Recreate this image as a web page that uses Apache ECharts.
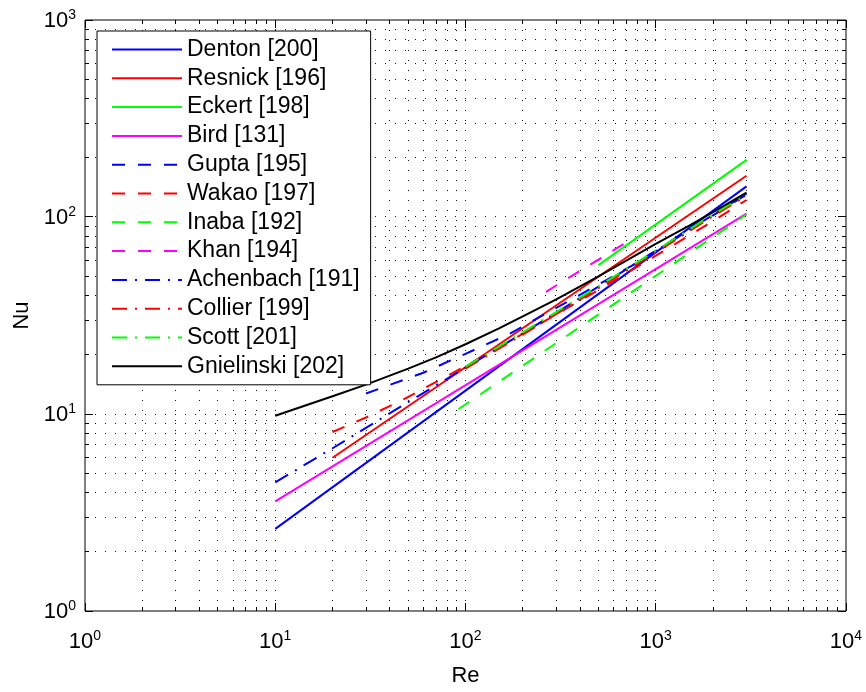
<!DOCTYPE html>
<html>
<head>
<meta charset="utf-8">
<script src="https://cdn.jsdelivr.net/npm/echarts@6/dist/echarts.min.js"></script>
<style>
  html, body { margin: 0; padding: 0; background: #fff; }
  #chart { width: 866px; height: 692px; }
</style>
</head>
<body>
<div id="chart"></div>
<script>
// Nusselt number correlations versus Reynolds number, log-log
const FONT = "'Liberation Sans', Arial, Helvetica, sans-serif";

const seriesNames = [
  'Denton [200]', 'Resnick [196]', 'Eckert [198]', 'Bird [131]',
  'Gupta [195]', 'Wakao [197]', 'Inaba [192]', 'Khan [194]',
  'Achenbach [191]', 'Collier [199]', 'Scott [201]', 'Gnielinski [202]'
];

// [Re, Nu] pairs
const denton = [[10, 2.61], [3000, 143]];
const resnick = [[20, 6.0], [3000, 162]];
const eckert = [[500, 57], [3000, 195]];
const bird = [[10, 3.6], [3000, 104]];
const gupta = [[30, 12.7], [60, 16.2], [100, 20.2], [170, 25.5], [300, 34.6], [500, 45.4], [750, 56.7], [1000, 67.4], [2000, 102], [3000, 130]];
const wakao = [[20, 8.1], [30, 9.6], [50, 12.2], [100, 17.5], [200, 25.5], [500, 42.6], [1000, 63.6], [2000, 95.4], [3000, 122]];
const inaba = [[92, 10.6], [3000, 103]];
const khan = [[265, 41.7], [720, 75.5]];
const achenbach = [[10, 4.5], [20, 6.7], [50, 11.5], [100, 17.2], [200, 25.7], [500, 44.3], [1000, 67.3], [2000, 102.5], [3000, 131.5]];
const collier = [[100, 17.0], [200, 25.3], [500, 43.5], [1000, 66], [2000, 101], [3000, 128]];
const scott = [[100, 17.4], [200, 26], [500, 44.5], [1000, 67.5], [2000, 103], [3000, 130]];
const gnielinski = [[10, 9.8], [20, 12.3], [30, 14.1], [50, 17.0], [70, 19.4], [100, 22.6], [150, 27.2], [200, 31.3], [300, 38.2], [500, 50], [700, 60], [1000, 73], [1500, 90.5], [2000, 106], [3000, 133]];

const seriesData = [denton, resnick, eckert, bird, gupta, wakao, inaba, khan, achenbach, collier, scott, gnielinski];
const seriesColors = ['#0000ff', '#ff0000', '#00ff00', '#ff00ff', '#0000ff', '#ff0000', '#00ff00', '#ff00ff', '#0000ff', '#ff0000', '#00ff00', '#000000'];
const seriesDash = ['solid', 'solid', 'solid', 'solid', 'dashed', 'dashed', 'dashed', 'dashed', 'dashdot', 'dashdot', 'dashdot', 'solid'];

// axis decades and tick labels (exponents of 10)
const xDecades = [1, 10, 100, 1000, 10000];
const yDecades = [1, 10, 100, 1000];
const xTickLabels = ['0', '1', '2', '3', '4'];
const yTickLabels = ['0', '1', '2', '3'];
const minorFactors = [2, 3, 4, 5, 6, 7, 8, 9];

const dashPatterns = { solid: 'solid', dashed: [13, 13], dashdot: [15, 8, 2, 8] };

function decadeLabel(decades, labels) {
  return function (v) {
    let idx = -1;
    decades.forEach((d, i) => { if (Math.abs(d - v) / d < 1e-6) idx = i; });
    return idx < 0 ? '' : '{b|10}{s|' + labels[idx] + '}';
  };
}

const labelRich = {
  b: { fontSize: 22, fontFamily: FONT, color: '#000', lineHeight: 24, verticalAlign: 'bottom' },
  s: { fontSize: 14, fontFamily: FONT, color: '#000', lineHeight: 14, verticalAlign: 'top' }
};

function minorValues(decades) {
  const out = [];
  for (let i = 0; i < decades.length - 1; i++) {
    minorFactors.forEach(f => out.push(decades[i] * f));
  }
  return out;
}

// dotted grid plus inward ticks on all four sides
function renderGrid(params, api) {
  const xMin = xDecades[0], xMax = xDecades[xDecades.length - 1];
  const yMin = yDecades[0], yMax = yDecades[yDecades.length - 1];
  const bl = api.coord([xMin, yMin]);
  const tr = api.coord([xMax, yMax]);
  const left = bl[0], bottom = bl[1], right = tr[0], top = tr[1];
  const children = [];
  const dotStyle = { stroke: '#111', lineWidth: 1, lineDash: [1, 9] };
  const tickStyle = { stroke: '#000', lineWidth: 1 };
  const crisp = v => Math.round(v - 0.5) + 0.5;

  const xs = [];
  xDecades.forEach(v => xs.push([v, 8]));
  minorValues(xDecades).forEach(v => xs.push([v, 4]));
  const ys = [];
  yDecades.forEach(v => ys.push([v, 8]));
  minorValues(yDecades).forEach(v => ys.push([v, 4]));

  xs.forEach(([v, len]) => {
    const px = crisp(api.coord([v, yMin])[0]);
    if (v !== xMin && v !== xMax) {
      children.push({ type: 'line', shape: { x1: px, y1: top, x2: px, y2: bottom }, style: dotStyle });
    }
    children.push({ type: 'line', shape: { x1: px, y1: bottom, x2: px, y2: bottom - len }, style: tickStyle });
    children.push({ type: 'line', shape: { x1: px, y1: top, x2: px, y2: top + len }, style: tickStyle });
  });
  ys.forEach(([v, len]) => {
    const py = crisp(api.coord([xMin, v])[1]);
    if (v !== yMin && v !== yMax) {
      children.push({ type: 'line', shape: { x1: left, y1: py, x2: right, y2: py }, style: dotStyle });
    }
    children.push({ type: 'line', shape: { x1: left, y1: py, x2: left + len, y2: py }, style: tickStyle });
    children.push({ type: 'line', shape: { x1: right, y1: py, x2: right - len, y2: py }, style: tickStyle });
  });
  return { type: 'group', children: children };
}

const lineSeries = seriesNames.map((name, i) => ({
  name: name,
  type: 'line',
  data: seriesData[i],
  showSymbol: false,
  symbol: 'none',
  smooth: false,
  animation: false,
  z: 3,
  color: seriesColors[i],
  lineStyle: { color: seriesColors[i], width: 2, type: dashPatterns[seriesDash[i]], cap: 'butt' }
}));

const option = {
  animation: false,
  backgroundColor: '#fff',
  grid: {
    left: 85, top: 20, width: 761, height: 600,
    show: true, borderColor: '#000', borderWidth: 1, backgroundColor: 'transparent'
  },
  xAxis: {
    type: 'log', logBase: 10, min: 1, max: 10000,
    name: 'Re', nameLocation: 'middle', nameGap: 54,
    nameTextStyle: { fontSize: 22, fontFamily: FONT, color: '#000' },
    axisLine: { show: false }, axisTick: { show: false }, splitLine: { show: false },
    axisLabel: { margin: 18, formatter: decadeLabel(xDecades, xTickLabels), rich: labelRich }
  },
  yAxis: {
    type: 'log', logBase: 10, min: 1, max: 1000,
    name: 'Nu', nameLocation: 'middle', nameGap: 45,
    nameTextStyle: { fontSize: 22, fontFamily: FONT, color: '#000' },
    axisLine: { show: false }, axisTick: { show: false }, splitLine: { show: false },
    axisLabel: { margin: 9, formatter: decadeLabel(yDecades, yTickLabels), rich: labelRich }
  },
  legend: {
    data: seriesNames,
    orient: 'vertical',
    left: 97, top: 31,
    padding: [7, 11, 7, 14],
    itemWidth: 70, itemHeight: 14, itemGap: 5.8,
    backgroundColor: '#fff', borderColor: '#000', borderWidth: 1,
    selectedMode: false,
    itemStyle: { opacity: 0 },
    textStyle: { fontSize: 23, fontFamily: FONT, color: '#000' }
  },
  series: [{
    type: 'custom',
    silent: true,
    z: 1,
    clip: false,
    data: [[1, 1]],
    renderItem: renderGrid
  }].concat(lineSeries)
};

const chart = echarts.init(document.getElementById('chart'), null, { renderer: 'canvas' });
chart.setOption(option);
</script>
</body>
</html>
